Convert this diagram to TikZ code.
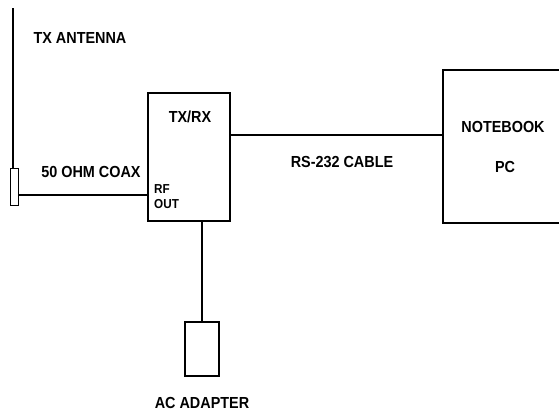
\documentclass[tikz,border=0pt]{standalone}
\usepackage{fontspec}
\setmainfont{Liberation Sans}[FakeStretch=0.9]
\tikzset{
  lbl/.style={font=\fontsize{16}{18}\selectfont\bfseries, inner sep=0pt},
  smalllbl/.style={font=\fontsize{13}{14}\selectfont\bfseries, inner sep=0pt, anchor=west},
  unit/.style={draw, line width=2.8pt, inner sep=0pt},
}
\begin{document}
\begin{tikzpicture}[x=1pt,y=-1pt]
        \useasboundingbox (0,0) rectangle (559,416);
        % boxes
        \node[unit, minimum width=82pt, minimum height=128pt] (trx) at (189,157) {};
        \node[unit, minimum width=132pt, minimum height=153pt] (pc) at (509,146.5) {};
        \node[draw, line width=1.8pt, minimum width=34pt, minimum height=54pt] (adapter) at (202,349) {};
        \node[draw, line width=0.8pt, minimum width=8pt, minimum height=37pt] (antbase) at (14,186.5) {};
        \coordinate (anttop) at (13,8);
        \coordinate (coax) at (0,195);
        \coordinate (cable) at (0,135);
        % lines
        \draw[line width=2.8pt] (antbase.north -| anttop) -- (anttop);
        \draw[line width=2.6pt] (antbase.east |- coax) -- (trx.west |- coax);
        \draw[line width=2.8pt] (trx.east |- cable) -- (pc.west |- cable);
        \draw[line width=2.2pt] (trx.south -| adapter.north) -- (adapter.north);
        % labels
        \node[lbl] (antlabel) at (80,38) {TX ANTENNA};
        \node[lbl] (coaxlabel) at (91,172) {50 OHM COAX};
        \node[lbl] (trxlabel) at (190,117) {TX/RX};
        \node[smalllbl] (rf) at (154,189) {RF};
        \node[smalllbl] (out) at (154,204) {OUT};
        \node[lbl] (cablelabel) at (342,162) {RS-232 CABLE};
        \node[lbl] (pclabel1) at (503,127) {NOTEBOOK};
        \node[lbl] (pclabel2) at (505,167) {PC};
        \node[lbl] (aclabel) at (202,403) {AC ADAPTER};
    \end{tikzpicture}
\end{document}
